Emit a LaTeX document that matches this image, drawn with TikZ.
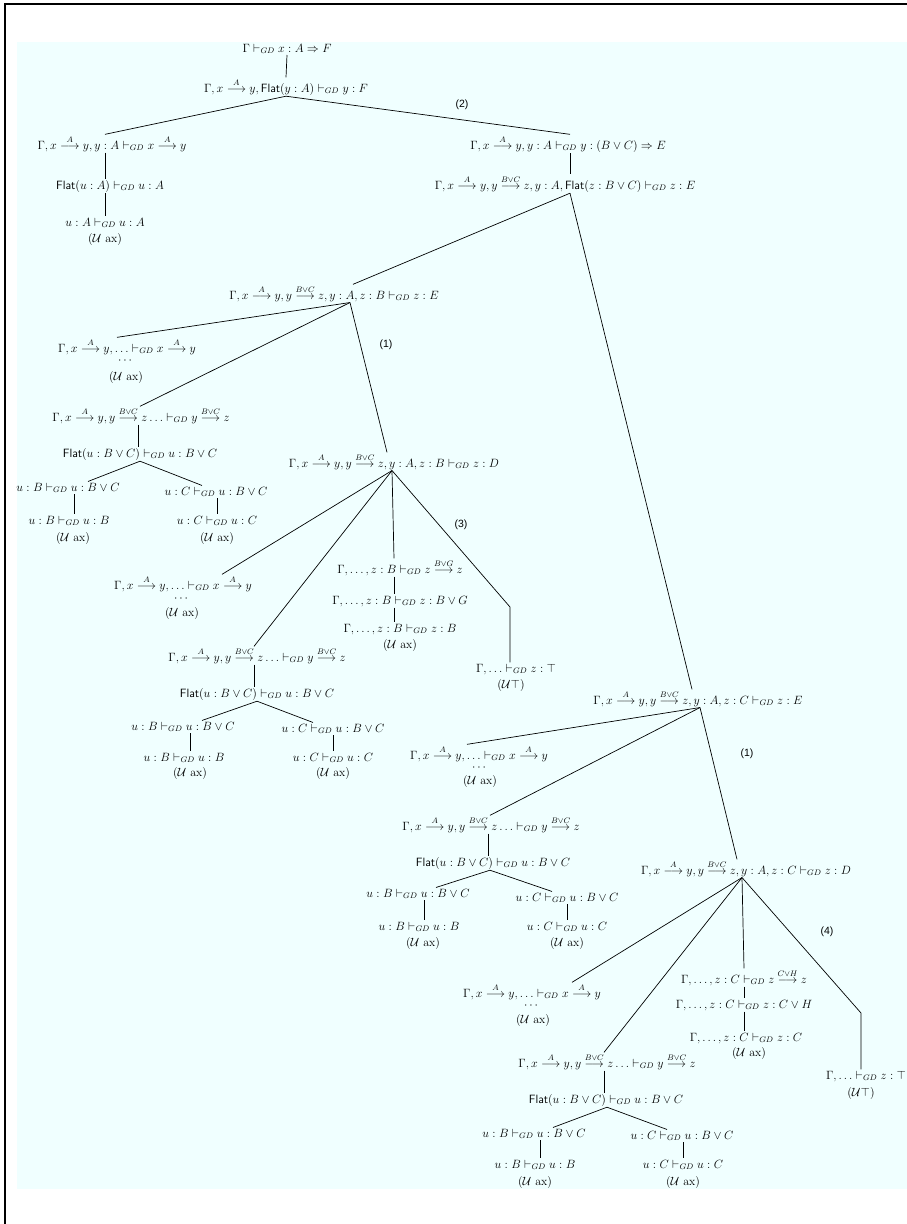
\documentclass[tikz,border=0pt]{standalone}
\usepackage{amsmath}
\usepackage{fontspec}
\newfontfamily\labfont{Liberation Sans}
\definecolor{bgc}{RGB}{240,255,255}
\newcommand{\GD}{\vdash_{GD}}
\newcommand{\ar}[1]{\stackrel{#1}{\longrightarrow}}
\newcommand{\Fl}{\mathsf{Flat}}
\newcommand{\Uax}{$(\mathcal{U}\ \mathrm{ax})$}
\begin{document}
\begin{tikzpicture}[x=1pt,y=-1pt,
  seq/.style={anchor=base,inner sep=1pt,font=\fontsize{12}{14}\selectfont},
  lab/.style={anchor=base,inner sep=0pt,font=\labfont\fontsize{10.5}{12}\selectfont},
  edge/.style={line width=0.7pt,black}]
\useasboundingbox (0,0) rectangle (907,1224);
\fill[bgc] (17,42) rectangle (907,1189);
\draw[line width=1.5pt] (5,1224) -- (5,4) -- (907,4);

% top
\node[seq] (root) at (287,52) {$\Gamma \GD x : A \Rightarrow F$};
\node[seq] (n2) at (286,92) {$\Gamma, x \ar{A} y, \Fl(y : A) \GD y : F$};
\node[lab] (lab2) at (462,107) {(2)};
\node[seq] (l1) at (112,149) {$\Gamma, x \ar{A} y, y : A \GD x \ar{A} y$};
\node[seq] (l2) at (110,189) {$\Fl(u : A) \GD u : A$};
\node[seq] (l3) at (105,226) {$u : A \GD u : A$};
\node[seq] (l3ax) at (105,242) {\Uax};
\node[seq] (r1) at (568,149) {$\Gamma, x \ar{A} y, y : A \GD y : (B \vee C) \Rightarrow E$};
\node[seq] (r2) at (565,189) {$\Gamma, x \ar{A} y, y \ar{B\vee C} z, y : A, \Fl(z : B \vee C) \GD z : E$};

% B subtree
\node[seq] (b) at (334,299) {$\Gamma, x \ar{A} y, y \ar{B\vee C} z, y : A, z : B \GD z : E$};
\node[lab] (lab1a) at (386,347) {(1)};
\node[seq] (b1) at (127,352) {$\Gamma, x \ar{A} y, \ldots \GD x \ar{A} y$};
\node[seq] (b1d) at (126,363) {$\cdots$};
\node[seq] (b1ax) at (126,380) {\Uax};
\node[seq] (b2) at (141,421) {$\Gamma, x \ar{A} y, y \ar{B\vee C} z \ldots \GD y \ar{B\vee C} z$};
\node[seq] (b3) at (140,457) {$\Fl(u : B \vee C) \GD u : B \vee C$};
\node[seq] (b4l) at (68,491) {$u : B \GD u : B \vee C$};
\node[seq] (b5l) at (69,524) {$u : B \GD u : B$};
\node[seq] (b5lax) at (73,541) {\Uax};
\node[seq] (b4r) at (216,495) {$u : C \GD u : B \vee C$};
\node[seq] (b5r) at (217,524) {$u : C \GD u : C$};
\node[seq] (b5rax) at (217,541) {\Uax};

% D subtree
\node[seq] (d) at (394,467) {$\Gamma, x \ar{A} y, y \ar{B\vee C} z, y : A, z : B \GD z : D$};
\node[lab] (lab3) at (461,527) {(3)};
\node[seq] (d1) at (183,589) {$\Gamma, x \ar{A} y, \ldots \GD x \ar{A} y$};
\node[seq] (d1d) at (182,601) {$\cdots$};
\node[seq] (d1ax) at (182,616) {\Uax};
\node[seq] (d2) at (257,661) {$\Gamma, x \ar{A} y, y \ar{B\vee C} z \ldots \GD y \ar{B\vee C} z$};
\node[seq] (d3) at (257,697) {$\Fl(u : B \vee C) \GD u : B \vee C$};
\node[seq] (d4l) at (183,730) {$u : B \GD u : B \vee C$};
\node[seq] (d5l) at (184,761) {$u : B \GD u : B$};
\node[seq] (d5lax) at (190,776) {\Uax};
\node[seq] (d4r) at (333,732) {$u : C \GD u : B \vee C$};
\node[seq] (d5r) at (333,761) {$u : C \GD u : C$};
\node[seq] (d5rax) at (333,776) {\Uax};
\node[seq] (d6) at (400,573) {$\Gamma, \ldots, z : B \GD z \ar{B\vee G} z$};
\node[seq] (d7) at (400,604) {$\Gamma, \ldots, z : B \GD z : B \vee G$};
\node[seq] (d8) at (400,632) {$\Gamma, \ldots, z : B \GD z : B$};
\node[seq] (d8ax) at (400,648) {\Uax};
\node[seq] (d9) at (516,672) {$\Gamma, \ldots \GD z : \top$};
\node[seq] (d9ax) at (511,688) {$(\mathcal{U}\top)$};
\coordinate (d9bend) at (510,607);

% C subtree
\node[seq] (c) at (698,704) {$\Gamma, x \ar{A} y, y \ar{B\vee C} z, y : A, z : C \GD z : E$};
\node[lab] (lab1b) at (747,756) {(1)};
\node[seq] (c1) at (479,759) {$\Gamma, x \ar{A} y, \ldots \GD x \ar{A} y$};
\node[seq] (c1d) at (480,770) {$\cdots$};
\node[seq] (c1ax) at (480,784) {\Uax};
\node[seq] (c2) at (491,830) {$\Gamma, x \ar{A} y, y \ar{B\vee C} z \ldots \GD y \ar{B\vee C} z$};
\node[seq] (c3) at (493,866) {$\Fl(u : B \vee C) \GD u : B \vee C$};
\node[seq] (c4l) at (418,897) {$u : B \GD u : B \vee C$};
\node[seq] (c5l) at (419,930) {$u : B \GD u : B$};
\node[seq] (c5lax) at (423,946) {\Uax};
\node[seq] (c4r) at (567,901) {$u : C \GD u : B \vee C$};
\node[seq] (c5r) at (567,930) {$u : C \GD u : C$};
\node[seq] (c5rax) at (567,946) {\Uax};

% E subtree
\node[seq] (e) at (746,874) {$\Gamma, x \ar{A} y, y \ar{B\vee C} z, y : A, z : C \GD z : D$};
\node[lab] (lab4) at (827,934) {(4)};
\node[seq] (e6) at (744,983) {$\Gamma, \ldots, z : C \GD z \ar{C\vee H} z$};
\node[seq] (e7) at (744,1008) {$\Gamma, \ldots, z : C \GD z : C \vee H$};
\node[seq] (e8) at (746,1041) {$\Gamma, \ldots, z : C \GD z : C$};
\node[seq] (e8ax) at (749,1056) {\Uax};
\node[seq] (e9) at (866,1079) {$\Gamma, \ldots \GD z : \top$};
\node[seq] (e9ax) at (861,1096) {$(\mathcal{U}\top)$};
\coordinate (e9bend) at (861,1013);
\node[seq] (e1) at (532,997) {$\Gamma, x \ar{A} y, \ldots \GD x \ar{A} y$};
\node[seq] (e1d) at (532,1008) {$\cdots$};
\node[seq] (e1ax) at (533,1023) {\Uax};
\node[seq] (e2) at (607,1067) {$\Gamma, x \ar{A} y, y \ar{B\vee C} z \ldots \GD y \ar{B\vee C} z$};
\node[seq] (e3) at (606,1103) {$\Fl(u : B \vee C) \GD u : B \vee C$};
\node[seq] (e4l) at (534,1137) {$u : B \GD u : B \vee C$};
\node[seq] (e5l) at (535,1168) {$u : B \GD u : B$};
\node[seq] (e5lax) at (535,1185) {\Uax};
\node[seq] (e4r) at (682,1139) {$u : C \GD u : B \vee C$};
\node[seq] (e5r) at (683,1168) {$u : C \GD u : C$};
\node[seq] (e5rax) at (683,1185) {\Uax};

% edges: top
\draw[edge] (root.south) -- (n2.north);
\draw[edge] (n2.south) -- ([xshift=-7pt]l1.north);
\draw[edge] (n2.south) -- ([xshift=2pt]r1.north);
\draw[edge] ([xshift=-7pt]l1.south) -- ([xshift=-5pt]l2.north);
\draw[edge] ([xshift=-5pt]l2.south) -- (l3.north);
\draw[edge] ([xshift=2pt]r1.south) -- ([xshift=5pt]r2.north);
\draw[edge] ([xshift=5pt]r2.south) -- ([xshift=19pt]b.north);
\draw[edge] ([xshift=5pt]r2.south) -- ([xshift=-6pt]c.north);

% edges: B
\draw[edge] ([xshift=16pt]b.south) -- ([xshift=-10pt]b1.north);
\draw[edge] ([xshift=16pt]b.south) -- ([xshift=-1pt]b2.north);
\draw[edge] ([xshift=16pt]b.south) -- ([xshift=-7pt]d.north);
\draw[edge] ([xshift=-3pt]b2.south) -- ([xshift=-2pt]b3.north);
\draw[edge] (b3.south) -- ([xshift=20pt]b4l.north);
\draw[edge] (b3.south) -- ([xshift=-14pt]b4r.north);
\draw[edge] ([xshift=6pt]b4l.south) -- ([xshift=5pt]b5l.north);
\draw[edge] ([xshift=1pt]b4r.south) -- (b5r.north);

% edges: D
\draw[edge] ([xshift=-2pt]d.south) -- ([xshift=39pt]d1.north);
\draw[edge] ([xshift=-2pt]d.south) -- ([xshift=-3pt]d2.north);
\draw[edge] ([xshift=-2pt]d.south) -- ([xshift=-6pt]d6.north);
\draw[edge] ([xshift=-6pt]d6.south) -- ([xshift=-6pt]d7.north);
\draw[edge] ([xshift=-6pt]d7.south) -- ([xshift=-6pt]d8.north);
\draw[edge] ([xshift=-2pt]d.south) -- (d9bend) -- (d9bend |- d9.north);
\draw[edge] ([xshift=-3pt]d2.south) -- ([xshift=-3pt]d3.north);
\draw[edge] (d3.south) -- ([xshift=19pt]d4l.north);
\draw[edge] (d3.south) -- ([xshift=-20pt]d4r.north);
\draw[edge] ([xshift=7pt]d4l.south) -- ([xshift=6pt]d5l.north);
\draw[edge] (d4r.south) -- (d5r.north);

% edges: C
\draw[edge] ([xshift=2pt]c.south) -- ([xshift=-12pt]c1.north);
\draw[edge] ([xshift=2pt]c.south) -- ([xshift=-1pt]c2.north);
\draw[edge] ([xshift=2pt]c.south) -- ([xshift=-9pt]e.north);
\draw[edge] ([xshift=-3pt]c2.south) -- ([xshift=-5pt]c3.north);
\draw[edge] ([xshift=-3pt]c3.south) -- ([xshift=18pt]c4l.north);
\draw[edge] ([xshift=-3pt]c3.south) -- ([xshift=-15pt]c4r.north);
\draw[edge] ([xshift=6pt]c4l.south) -- ([xshift=5pt]c5l.north);
\draw[edge] (c4r.south) -- (c5r.north);

% edges: E
\draw[edge] ([xshift=-4pt]e.south) -- ([xshift=40pt]e1.north);
\draw[edge] ([xshift=-4pt]e.south) -- ([xshift=-3pt]e2.north);
\draw[edge] ([xshift=-4pt]e.south) -- (e6.north);
\draw[edge] (e6.south) -- (e7.north);
\draw[edge] (e7.south) -- ([xshift=-2pt]e8.north);
\draw[edge] ([xshift=-4pt]e.south) -- (e9bend) -- (e9bend |- e9.north);
\draw[edge] ([xshift=-3pt]e2.south) -- ([xshift=-2pt]e3.north);
\draw[edge] ([xshift=1pt]e3.south) -- ([xshift=19pt]e4l.north);
\draw[edge] ([xshift=1pt]e3.south) -- ([xshift=-15pt]e4r.north);
\draw[edge] ([xshift=6pt]e4l.south) -- ([xshift=5pt]e5l.north);
\draw[edge] ([xshift=1pt]e4r.south) -- (e5r.north);
\end{tikzpicture}
\end{document}
